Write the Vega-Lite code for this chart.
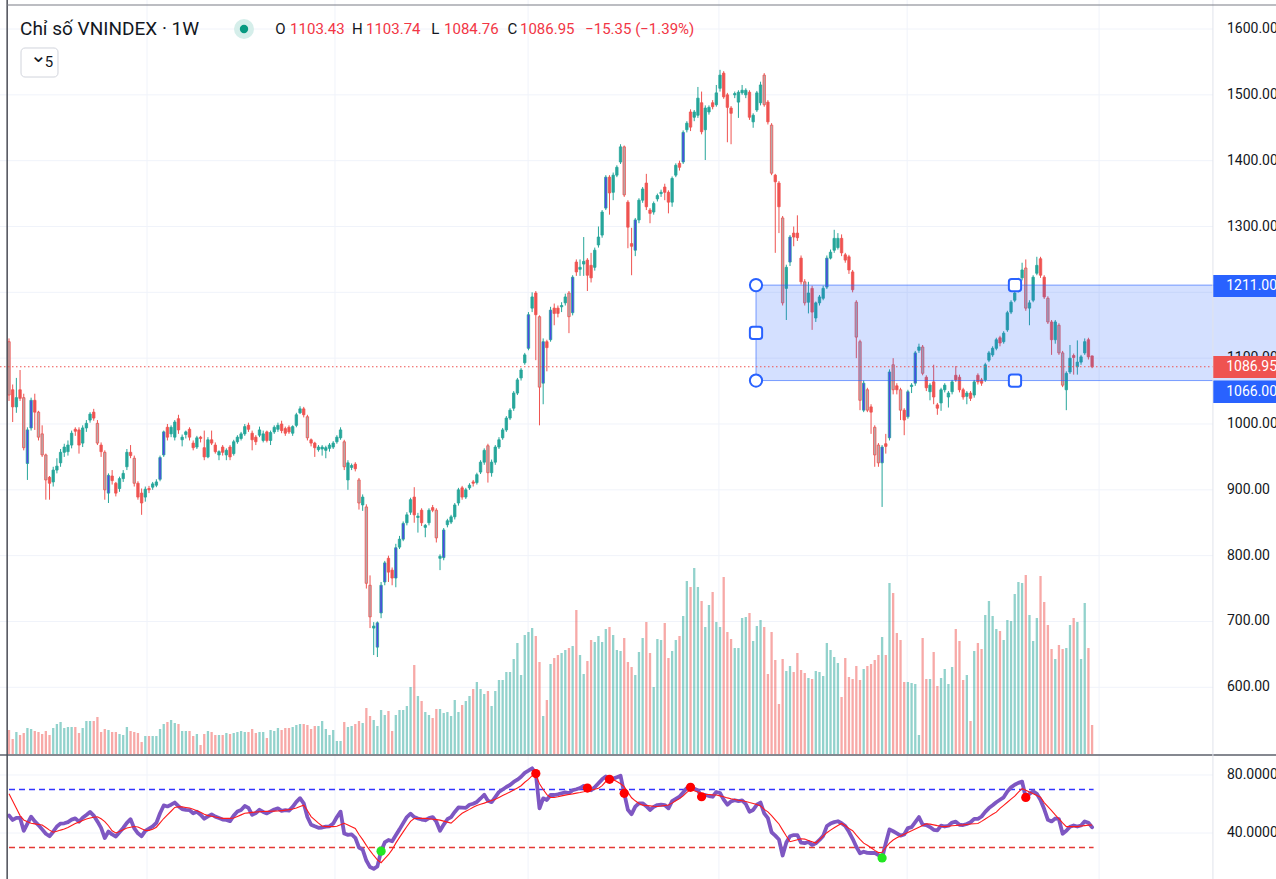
{
"$schema":"https://vega.github.io/schema/vega-lite/v6.json",
"width":1276,"height":879,"padding":0,
"autosize":{"type":"none"},
"background":"#ffffff",
"config":{"view":{"stroke":null},"font":"Roboto","scale":{"continuousPadding":0}},
"resolve":{"scale":{"y":"independent","color":"independent","fill":"independent","stroke":"independent"}},
"datasets":{
"pgrid":[{"p":600},{"p":700},{"p":800},{"p":900},{"p":1000},{"p":1100},{"p":1200},{"p":1300},{"p":1400},{"p":1500},{"p":1600}],
"rgrid":[{"r":80},{"r":40}],
"yrs":[{"year":2019,"i":37.46},{"year":2020,"i":88.49},{"year":2021,"i":140.9},{"year":2022,"i":192.7},{"year":2023,"i":243.8},{"year":2024,"i":295.9}],
"candles":[
{"i":0,"o":1125,"h":1130,"l":1035,"c":1044,"v":720,"r":52,"m":67,"k":1},
{"i":1,"o":1052,"h":1060,"l":1003,"c":1026,"v":450,"r":49,"m":62},
{"i":2,"o":1026,"h":1070,"l":1017,"c":1040,"v":660,"r":50.5,"m":57},
{"i":3,"o":1052,"h":1082,"l":1035,"c":1039,"v":570,"r":50.5,"m":52},
{"i":4,"o":1040,"h":1046,"l":960,"c":964,"v":630,"r":41.5,"m":49,"k":1},
{"i":5,"o":940,"h":995,"l":915,"c":991,"v":780,"r":46.5,"m":47.8,"k":1},
{"i":6,"o":994,"h":1040,"l":990,"c":1036,"v":750,"r":51.3,"m":46.7,"k":1},
{"i":7,"o":1036,"h":1046,"l":991,"c":1018,"v":690,"r":48,"m":46.3},
{"i":8,"o":1018,"h":1020,"l":975,"c":980,"v":660,"r":45.5,"m":45.9,"k":1},
{"i":9,"o":985,"h":998,"l":950,"c":953,"v":600,"r":42.5,"m":45.5,"k":1},
{"i":10,"o":953,"h":955,"l":885,"c":915,"v":690,"r":39.5,"m":43.8,"k":1},
{"i":11,"o":919,"h":921,"l":885,"c":910,"v":570,"r":37.8,"m":42},
{"i":12,"o":912,"h":935,"l":905,"c":930,"v":780,"r":40.9,"m":40.5},
{"i":13,"o":930,"h":948,"l":925,"c":936,"v":900,"r":44.5,"m":41.2},
{"i":14,"o":941,"h":962,"l":935,"c":957,"v":960,"r":46.5,"m":42},
{"i":15,"o":957,"h":970,"l":950,"c":965,"v":780,"r":46.7,"m":42.7},
{"i":16,"o":958,"h":975,"l":952,"c":968,"v":810,"r":47.5,"m":43.8},
{"i":17,"o":968,"h":990,"l":963,"c":986,"v":810,"r":49.2,"m":45.2},
{"i":18,"o":992,"h":995,"l":982,"c":989,"v":810,"r":50.1,"m":46.5},
{"i":19,"o":991,"h":995,"l":955,"c":968,"v":630,"r":47.8,"m":47.5},
{"i":20,"o":971,"h":998,"l":965,"c":994,"v":780,"r":50.5,"m":48.6},
{"i":21,"o":994,"h":1006,"l":988,"c":1001,"v":990,"r":52.4,"m":49.7},
{"i":22,"o":1006,"h":1018,"l":1002,"c":1015,"v":990,"r":54.5,"m":50.4},
{"i":23,"o":1018,"h":1023,"l":1005,"c":1009,"v":990,"r":52,"m":50.9},
{"i":24,"o":1001,"h":1006,"l":968,"c":971,"v":1110,"r":48,"m":51.2,"k":1},
{"i":25,"o":968,"h":972,"l":950,"c":958,"v":660,"r":43.5,"m":49.8},
{"i":26,"o":957,"h":960,"l":885,"c":900,"v":750,"r":36.5,"m":47.9,"k":1},
{"i":27,"o":895,"h":925,"l":880,"c":922,"v":720,"r":41,"m":45,"k":1},
{"i":28,"o":921,"h":930,"l":908,"c":914,"v":660,"r":39,"m":41.5},
{"i":29,"o":910,"h":912,"l":890,"c":895,"v":660,"r":37.6,"m":40},
{"i":30,"o":902,"h":920,"l":897,"c":917,"v":600,"r":40.5,"m":41.1},
{"i":31,"o":917,"h":930,"l":912,"c":925,"v":570,"r":43.5,"m":42.3},
{"i":32,"o":935,"h":962,"l":930,"c":957,"v":810,"r":47,"m":43.4},
{"i":33,"o":957,"h":968,"l":948,"c":952,"v":690,"r":49.5,"m":44},
{"i":34,"o":948,"h":952,"l":905,"c":910,"v":660,"r":43.2,"m":44.5,"k":1},
{"i":35,"o":910,"h":913,"l":885,"c":889,"v":630,"r":39.8,"m":44.1},
{"i":36,"o":895,"h":902,"l":862,"c":880,"v":360,"r":37.8,"m":43},
{"i":37,"o":889,"h":905,"l":882,"c":901,"v":540,"r":41.5,"m":41.8},
{"i":38,"o":902,"h":906,"l":895,"c":900,"v":540,"r":43,"m":41.8},
{"i":39,"o":904,"h":912,"l":900,"c":909,"v":540,"r":44.5,"m":42.6},
{"i":40,"o":907,"h":916,"l":904,"c":912,"v":540,"r":47,"m":44},
{"i":41,"o":916,"h":952,"l":913,"c":949,"v":750,"r":53.6,"m":47,"k":1},
{"i":42,"o":953,"h":990,"l":950,"c":988,"v":900,"r":59,"m":50,"k":1},
{"i":43,"o":995,"h":1000,"l":975,"c":980,"v":960,"r":58.3,"m":52.5},
{"i":44,"o":985,"h":998,"l":980,"c":995,"v":1020,"r":59.5,"m":55},
{"i":45,"o":980,"h":1006,"l":975,"c":1003,"v":930,"r":61,"m":57.6},
{"i":46,"o":1008,"h":1014,"l":985,"c":991,"v":900,"r":58.5,"m":58.1},
{"i":47,"o":976,"h":984,"l":966,"c":980,"v":690,"r":56.5,"m":58},
{"i":48,"o":984,"h":990,"l":978,"c":988,"v":690,"r":55.9,"m":57.6},
{"i":49,"o":992,"h":995,"l":975,"c":980,"v":690,"r":55.8,"m":57.2},
{"i":50,"o":971,"h":975,"l":960,"c":964,"v":540,"r":53.6,"m":56.4},
{"i":51,"o":965,"h":982,"l":962,"c":979,"v":600,"r":54.7,"m":55.4},
{"i":52,"o":980,"h":982,"l":972,"c":978,"v":270,"r":52.6,"m":54.3},
{"i":53,"o":964,"h":990,"l":945,"c":950,"v":600,"r":49.8,"m":53},
{"i":54,"o":950,"h":980,"l":948,"c":976,"v":690,"r":51.5,"m":52},
{"i":55,"o":976,"h":990,"l":968,"c":971,"v":660,"r":52.8,"m":51.6},
{"i":56,"o":968,"h":972,"l":955,"c":958,"v":570,"r":51.3,"m":51},
{"i":57,"o":953,"h":960,"l":945,"c":958,"v":570,"r":50.3,"m":50.5},
{"i":58,"o":965,"h":968,"l":952,"c":957,"v":570,"r":49.3,"m":50.1},
{"i":59,"o":953,"h":963,"l":945,"c":960,"v":630,"r":49,"m":50.1},
{"i":60,"o":965,"h":968,"l":945,"c":950,"v":600,"r":48.2,"m":50.1},
{"i":61,"o":955,"h":976,"l":952,"c":973,"v":630,"r":52,"m":50.3},
{"i":62,"o":973,"h":983,"l":970,"c":980,"v":660,"r":54.8,"m":51.4},
{"i":63,"o":978,"h":988,"l":975,"c":985,"v":690,"r":55.9,"m":52.5},
{"i":64,"o":985,"h":1000,"l":982,"c":996,"v":660,"r":58.6,"m":53.6},
{"i":65,"o":998,"h":1002,"l":988,"c":992,"v":660,"r":57.3,"m":53.9},
{"i":66,"o":986,"h":990,"l":960,"c":976,"v":750,"r":52.5,"m":54.2},
{"i":67,"o":980,"h":983,"l":968,"c":973,"v":630,"r":53.8,"m":54.5},
{"i":68,"o":983,"h":996,"l":980,"c":991,"v":660,"r":56,"m":54.7},
{"i":69,"o":975,"h":990,"l":972,"c":985,"v":660,"r":54.5,"m":54.8},
{"i":70,"o":988,"h":990,"l":972,"c":975,"v":480,"r":53.5,"m":54.9},
{"i":71,"o":975,"h":990,"l":968,"c":987,"v":720,"r":54.9,"m":55},
{"i":72,"o":988,"h":998,"l":985,"c":995,"v":690,"r":56.2,"m":55.1},
{"i":73,"o":992,"h":1002,"l":988,"c":998,"v":780,"r":57,"m":55.2},
{"i":74,"o":1000,"h":1005,"l":986,"c":990,"v":720,"r":55.3,"m":55.4},
{"i":75,"o":993,"h":996,"l":982,"c":986,"v":780,"r":55.7,"m":55.8},
{"i":76,"o":995,"h":998,"l":985,"c":988,"v":780,"r":55.4,"m":56.1},
{"i":77,"o":986,"h":998,"l":982,"c":996,"v":810,"r":58,"m":56.5},
{"i":78,"o":998,"h":1017,"l":995,"c":1014,"v":870,"r":61.5,"m":57.2},
{"i":79,"o":1017,"h":1027,"l":1015,"c":1023,"v":900,"r":64,"m":58.3},
{"i":80,"o":1023,"h":1026,"l":1010,"c":1014,"v":900,"r":60.5,"m":59.2},
{"i":81,"o":1011,"h":1014,"l":975,"c":979,"v":870,"r":51,"m":55.5,"k":1},
{"i":82,"o":976,"h":978,"l":966,"c":971,"v":750,"r":45.7,"m":51.3},
{"i":83,"o":971,"h":973,"l":950,"c":964,"v":840,"r":44.6,"m":49},
{"i":84,"o":961,"h":968,"l":958,"c":965,"v":840,"r":43.6,"m":46.8},
{"i":85,"o":962,"h":968,"l":952,"c":965,"v":990,"r":43.8,"m":44.8},
{"i":86,"o":960,"h":967,"l":948,"c":964,"v":750,"r":44.4,"m":44.4},
{"i":87,"o":963,"h":971,"l":958,"c":968,"v":570,"r":44.6,"m":44.4},
{"i":88,"o":965,"h":974,"l":962,"c":971,"v":720,"r":46.5,"m":44.4},
{"i":89,"o":973,"h":983,"l":970,"c":980,"v":390,"r":51,"m":44.6},
{"i":90,"o":979,"h":995,"l":976,"c":991,"v":390,"r":54.7,"m":45.7},
{"i":91,"o":973,"h":976,"l":930,"c":935,"v":960,"r":39.6,"m":46.7,"k":1},
{"i":92,"o":915,"h":945,"l":900,"c":941,"v":810,"r":38.7,"m":45.5},
{"i":93,"o":934,"h":940,"l":930,"c":937,"v":840,"r":39,"m":44.3},
{"i":94,"o":939,"h":942,"l":928,"c":932,"v":900,"r":36.7,"m":43.1},
{"i":95,"o":915,"h":918,"l":870,"c":880,"v":990,"r":30,"m":39,"k":1},
{"i":96,"o":877,"h":893,"l":868,"c":889,"v":930,"r":28.5,"m":35.4},
{"i":97,"o":874,"h":878,"l":750,"c":758,"v":1380,"r":21,"m":31.5,"k":1},
{"i":98,"o":755,"h":770,"l":690,"c":707,"v":1140,"r":16.5,"m":27.8,"k":1},
{"i":99,"o":690,"h":699,"l":649,"c":693,"v":1020,"r":15.3,"m":24.5},
{"i":100,"o":661,"h":700,"l":646,"c":698,"v":840,"r":17,"m":21.5,"k":1},
{"i":101,"o":713,"h":760,"l":705,"c":755,"v":1320,"r":27.5,"m":19.5,"k":1,"s":"buy"},
{"i":102,"o":760,"h":792,"l":755,"c":789,"v":1170,"r":33.5,"m":22.4,"k":1},
{"i":103,"o":796,"h":800,"l":760,"c":775,"v":1290,"r":35.2,"m":25},
{"i":104,"o":778,"h":782,"l":755,"c":766,"v":690,"r":34.3,"m":28.5},
{"i":105,"o":766,"h":818,"l":752,"c":812,"v":1170,"r":38.5,"m":33,"k":1},
{"i":106,"o":813,"h":830,"l":810,"c":825,"v":1320,"r":42.5,"m":37},
{"i":107,"o":825,"h":852,"l":822,"c":849,"v":1320,"r":46.8,"m":40.8,"k":1},
{"i":108,"o":850,"h":866,"l":846,"c":862,"v":1440,"r":51,"m":44.5},
{"i":109,"o":866,"h":888,"l":862,"c":885,"v":2010,"r":53.3,"m":48},
{"i":110,"o":889,"h":904,"l":850,"c":862,"v":2670,"r":51,"m":50},
{"i":111,"o":858,"h":865,"l":835,"c":860,"v":1740,"r":50,"m":50.1},
{"i":112,"o":869,"h":872,"l":845,"c":850,"v":1590,"r":49.3,"m":50.1},
{"i":113,"o":843,"h":848,"l":828,"c":846,"v":1260,"r":48.8,"m":50.1},
{"i":114,"o":850,"h":872,"l":846,"c":869,"v":1170,"r":50.3,"m":49.8},
{"i":115,"o":873,"h":877,"l":866,"c":869,"v":1080,"r":51,"m":49.5},
{"i":116,"o":869,"h":872,"l":820,"c":827,"v":1350,"r":47.8,"m":49.2,"k":1},
{"i":117,"o":796,"h":802,"l":778,"c":799,"v":1350,"r":41.5,"m":48.9},
{"i":118,"o":797,"h":842,"l":793,"c":839,"v":1230,"r":45.8,"m":48.2,"k":1},
{"i":119,"o":847,"h":856,"l":843,"c":853,"v":1260,"r":49.5,"m":47.5},
{"i":120,"o":851,"h":862,"l":848,"c":859,"v":1140,"r":51,"m":46.8},
{"i":121,"o":859,"h":880,"l":855,"c":877,"v":1620,"r":54.5,"m":49},
{"i":122,"o":880,"h":903,"l":876,"c":900,"v":1260,"r":57.6,"m":51.5},
{"i":123,"o":903,"h":906,"l":885,"c":889,"v":1470,"r":57.5,"m":53.6},
{"i":124,"o":889,"h":903,"l":886,"c":900,"v":1590,"r":57.3,"m":55},
{"i":125,"o":903,"h":910,"l":900,"c":907,"v":1740,"r":59.5,"m":56.3},
{"i":126,"o":912,"h":915,"l":905,"c":910,"v":1950,"r":60.2,"m":57.8},
{"i":127,"o":911,"h":926,"l":908,"c":923,"v":2160,"r":61.4,"m":59},
{"i":128,"o":927,"h":945,"l":924,"c":942,"v":1950,"r":63.8,"m":59.8},
{"i":129,"o":942,"h":963,"l":938,"c":960,"v":1800,"r":66.4,"m":60.6},
{"i":130,"o":967,"h":970,"l":911,"c":926,"v":1890,"r":62.3,"m":61.5,"k":1},
{"i":131,"o":926,"h":946,"l":920,"c":942,"v":1440,"r":61.3,"m":62.4},
{"i":132,"o":942,"h":968,"l":938,"c":965,"v":1890,"r":64.8,"m":63.2},
{"i":133,"o":965,"h":980,"l":962,"c":976,"v":2220,"r":68.3,"m":64.5},
{"i":134,"o":979,"h":994,"l":976,"c":991,"v":2220,"r":70,"m":65.8},
{"i":135,"o":991,"h":1012,"l":988,"c":1009,"v":2460,"r":71.7,"m":67},
{"i":136,"o":1009,"h":1024,"l":1006,"c":1021,"v":2460,"r":73.1,"m":68.3},
{"i":137,"o":1024,"h":1050,"l":1020,"c":1047,"v":2850,"r":75.2,"m":69.6},
{"i":138,"o":1047,"h":1070,"l":1044,"c":1067,"v":3330,"r":76.8,"m":71},
{"i":139,"o":1070,"h":1085,"l":1066,"c":1082,"v":2370,"r":78.8,"m":72.6},
{"i":140,"o":1093,"h":1108,"l":1090,"c":1105,"v":3570,"r":81.5,"m":75},
{"i":141,"o":1115,"h":1170,"l":1112,"c":1166,"v":3660,"r":83,"m":77,"k":1},
{"i":142,"o":1176,"h":1200,"l":1170,"c":1193,"v":3780,"r":84.6,"m":79.5},
{"i":143,"o":1199,"h":1202,"l":1097,"c":1166,"v":3540,"r":81,"m":80,"s":"sell"},
{"i":144,"o":1163,"h":1165,"l":998,"c":1056,"v":2760,"r":57,"m":74,"k":1},
{"i":145,"o":1062,"h":1130,"l":1030,"c":1125,"v":1140,"r":63.9,"m":70,"k":1},
{"i":146,"o":1125,"h":1128,"l":1080,"c":1116,"v":1620,"r":62.8,"m":66.5},
{"i":147,"o":1128,"h":1178,"l":1125,"c":1173,"v":2700,"r":66.2,"m":64.5,"k":1},
{"i":148,"o":1176,"h":1183,"l":1150,"c":1168,"v":2880,"r":66.2,"m":64.5},
{"i":149,"o":1176,"h":1180,"l":1162,"c":1168,"v":2970,"r":66.7,"m":65},
{"i":150,"o":1178,"h":1185,"l":1170,"c":1180,"v":3030,"r":67.4,"m":65.6},
{"i":151,"o":1184,"h":1198,"l":1180,"c":1193,"v":3120,"r":68,"m":66.1},
{"i":152,"o":1199,"h":1202,"l":1138,"c":1163,"v":3180,"r":67.5,"m":66.6,"k":1},
{"i":153,"o":1169,"h":1226,"l":1165,"c":1223,"v":3240,"r":69.5,"m":67,"k":1},
{"i":154,"o":1246,"h":1250,"l":1225,"c":1231,"v":4320,"r":70.2,"m":67.5},
{"i":155,"o":1235,"h":1250,"l":1225,"c":1238,"v":2970,"r":71,"m":67.9},
{"i":156,"o":1243,"h":1284,"l":1225,"c":1247,"v":2400,"r":72.5,"m":68.4},
{"i":157,"o":1249,"h":1252,"l":1202,"c":1226,"v":2790,"r":71,"m":69,"s":"sell"},
{"i":158,"o":1241,"h":1260,"l":1215,"c":1222,"v":3420,"r":69.5,"m":69.6},
{"i":159,"o":1238,"h":1268,"l":1233,"c":1264,"v":3360,"r":71.5,"m":70.2},
{"i":160,"o":1272,"h":1300,"l":1268,"c":1284,"v":3540,"r":74.3,"m":70.8},
{"i":161,"o":1287,"h":1325,"l":1283,"c":1322,"v":3360,"r":77,"m":72.7},
{"i":162,"o":1328,"h":1378,"l":1325,"c":1375,"v":3750,"r":79,"m":75.5,"k":1},
{"i":163,"o":1375,"h":1378,"l":1318,"c":1351,"v":3810,"r":77,"m":77.2,"s":"sell"},
{"i":164,"o":1352,"h":1382,"l":1340,"c":1378,"v":3570,"r":77.5,"m":76.8},
{"i":165,"o":1378,"h":1393,"l":1375,"c":1390,"v":3120,"r":78.5,"m":75.5},
{"i":166,"o":1398,"h":1425,"l":1395,"c":1421,"v":3090,"r":79.5,"m":74},
{"i":167,"o":1421,"h":1423,"l":1345,"c":1348,"v":3480,"r":67.4,"m":72,"k":1,"s":"sell"},
{"i":168,"o":1337,"h":1340,"l":1267,"c":1299,"v":2760,"r":56,"m":68},
{"i":169,"o":1274,"h":1298,"l":1226,"c":1270,"v":2610,"r":53,"m":64.3},
{"i":170,"o":1264,"h":1313,"l":1255,"c":1310,"v":2370,"r":58.2,"m":62.2,"k":1},
{"i":171,"o":1310,"h":1343,"l":1305,"c":1340,"v":3060,"r":60.5,"m":60.4},
{"i":172,"o":1340,"h":1360,"l":1336,"c":1357,"v":3480,"r":60.5,"m":59.2},
{"i":173,"o":1366,"h":1380,"l":1325,"c":1330,"v":3960,"r":58.5,"m":59},
{"i":174,"o":1325,"h":1328,"l":1305,"c":1320,"v":3030,"r":55.9,"m":58.7},
{"i":175,"o":1322,"h":1338,"l":1318,"c":1335,"v":2010,"r":58,"m":58.4},
{"i":176,"o":1342,"h":1350,"l":1338,"c":1347,"v":3450,"r":59.3,"m":58.3},
{"i":177,"o":1350,"h":1356,"l":1345,"c":1352,"v":3420,"r":59.6,"m":58.6},
{"i":178,"o":1360,"h":1365,"l":1340,"c":1352,"v":3930,"r":59.3,"m":59},
{"i":179,"o":1352,"h":1355,"l":1320,"c":1337,"v":2880,"r":57,"m":59.3},
{"i":180,"o":1337,"h":1376,"l":1330,"c":1373,"v":3090,"r":62,"m":60.6},
{"i":181,"o":1378,"h":1396,"l":1375,"c":1393,"v":3420,"r":63.5,"m":62.2},
{"i":182,"o":1396,"h":1400,"l":1385,"c":1390,"v":3540,"r":65,"m":63.7},
{"i":183,"o":1398,"h":1446,"l":1395,"c":1443,"v":4140,"r":68,"m":65.6,"k":1},
{"i":184,"o":1447,"h":1460,"l":1443,"c":1457,"v":5190,"r":71,"m":68},
{"i":185,"o":1474,"h":1478,"l":1445,"c":1451,"v":5010,"r":71.5,"m":70,"s":"sell"},
{"i":186,"o":1466,"h":1477,"l":1460,"c":1474,"v":5580,"r":70.5,"m":69.2},
{"i":187,"o":1469,"h":1512,"l":1465,"c":1495,"v":5010,"r":69.5,"m":68.2},
{"i":188,"o":1488,"h":1505,"l":1440,"c":1444,"v":4590,"r":65,"m":67.2,"s":"sell"},
{"i":189,"o":1447,"h":1484,"l":1401,"c":1480,"v":3810,"r":66.2,"m":66.6},
{"i":190,"o":1474,"h":1484,"l":1470,"c":1481,"v":4470,"r":65.5,"m":66.5},
{"i":191,"o":1488,"h":1492,"l":1478,"c":1482,"v":4860,"r":65,"m":66.3},
{"i":192,"o":1485,"h":1515,"l":1482,"c":1503,"v":3960,"r":68.3,"m":66.2},
{"i":193,"o":1510,"h":1538,"l":1505,"c":1530,"v":3810,"r":67.6,"m":65.6},
{"i":194,"o":1533,"h":1536,"l":1494,"c":1497,"v":5310,"r":63,"m":65},
{"i":195,"o":1500,"h":1503,"l":1428,"c":1481,"v":3660,"r":59.5,"m":64.2},
{"i":196,"o":1480,"h":1483,"l":1425,"c":1472,"v":3450,"r":61.8,"m":63.6},
{"i":197,"o":1500,"h":1505,"l":1495,"c":1502,"v":3180,"r":62.6,"m":63.1},
{"i":198,"o":1489,"h":1507,"l":1465,"c":1504,"v":3180,"r":62,"m":62.6},
{"i":199,"o":1503,"h":1515,"l":1500,"c":1507,"v":4080,"r":62.5,"m":62.2},
{"i":200,"o":1500,"h":1510,"l":1495,"c":1507,"v":4110,"r":60,"m":61.7},
{"i":201,"o":1504,"h":1507,"l":1462,"c":1466,"v":4230,"r":54.7,"m":61},
{"i":202,"o":1459,"h":1472,"l":1450,"c":1469,"v":3390,"r":55.9,"m":60.4},
{"i":203,"o":1477,"h":1506,"l":1474,"c":1503,"v":3840,"r":59.5,"m":59.7},
{"i":204,"o":1488,"h":1520,"l":1484,"c":1515,"v":4020,"r":61,"m":58.7},
{"i":205,"o":1530,"h":1533,"l":1482,"c":1485,"v":3810,"r":53.6,"m":56.3,"k":1},
{"i":206,"o":1489,"h":1492,"l":1455,"c":1459,"v":2400,"r":50.2,"m":54.6},
{"i":207,"o":1454,"h":1457,"l":1378,"c":1381,"v":3660,"r":40.5,"m":52,"k":1},
{"i":208,"o":1378,"h":1380,"l":1260,"c":1368,"v":2820,"r":38.2,"m":49.1},
{"i":209,"o":1366,"h":1369,"l":1290,"c":1330,"v":1500,"r":35.5,"m":46.2},
{"i":210,"o":1313,"h":1316,"l":1180,"c":1184,"v":2850,"r":24.5,"m":42,"k":1},
{"i":211,"o":1206,"h":1242,"l":1158,"c":1238,"v":2490,"r":33.5,"m":37.9},
{"i":212,"o":1246,"h":1287,"l":1240,"c":1284,"v":2640,"r":37.8,"m":34,"k":1},
{"i":213,"o":1290,"h":1300,"l":1270,"c":1284,"v":2460,"r":38.6,"m":34.7},
{"i":214,"o":1290,"h":1317,"l":1278,"c":1283,"v":3030,"r":38.6,"m":35.3},
{"i":215,"o":1252,"h":1256,"l":1212,"c":1216,"v":2520,"r":33.3,"m":36},
{"i":216,"o":1216,"h":1220,"l":1180,"c":1184,"v":2430,"r":33,"m":35.8,"k":1},
{"i":217,"o":1185,"h":1216,"l":1168,"c":1199,"v":2280,"r":33.8,"m":34.9},
{"i":218,"o":1206,"h":1210,"l":1143,"c":1170,"v":2250,"r":31.8,"m":34},
{"i":219,"o":1161,"h":1186,"l":1155,"c":1184,"v":2490,"r":32.9,"m":33.1},
{"i":220,"o":1184,"h":1196,"l":1180,"c":1193,"v":2460,"r":35.2,"m":35.5},
{"i":221,"o":1191,"h":1210,"l":1188,"c":1206,"v":2340,"r":38,"m":37.8},
{"i":222,"o":1208,"h":1256,"l":1205,"c":1252,"v":3330,"r":44.8,"m":40.2,"k":1},
{"i":223,"o":1252,"h":1265,"l":1250,"c":1261,"v":3120,"r":46.5,"m":42},
{"i":224,"o":1264,"h":1295,"l":1260,"c":1282,"v":2910,"r":47.5,"m":43.6},
{"i":225,"o":1268,"h":1290,"l":1265,"c":1282,"v":2730,"r":48.1,"m":45.2},
{"i":226,"o":1282,"h":1288,"l":1255,"c":1260,"v":1710,"r":46.7,"m":46.6},
{"i":227,"o":1257,"h":1260,"l":1245,"c":1249,"v":2880,"r":44.8,"m":45},
{"i":228,"o":1254,"h":1257,"l":1228,"c":1234,"v":2310,"r":40.8,"m":43.2},
{"i":229,"o":1231,"h":1234,"l":1200,"c":1204,"v":2250,"r":36,"m":41.6},
{"i":230,"o":1185,"h":1188,"l":1100,"c":1132,"v":2640,"r":30.5,"m":38.5,"k":1},
{"i":231,"o":1125,"h":1128,"l":1021,"c":1036,"v":2220,"r":26,"m":35.6,"k":1},
{"i":232,"o":1021,"h":1066,"l":1018,"c":1062,"v":2550,"r":27.1,"m":33,"k":1},
{"i":233,"o":1052,"h":1055,"l":1018,"c":1021,"v":2640,"r":26.3,"m":31.5,"k":1},
{"i":234,"o":1026,"h":1030,"l":985,"c":1018,"v":2700,"r":26.2,"m":29.8},
{"i":235,"o":995,"h":998,"l":935,"c":953,"v":2820,"r":26.3,"m":28,"k":1},
{"i":236,"o":968,"h":971,"l":935,"c":941,"v":2970,"r":24.8,"m":26.5,"k":1},
{"i":237,"o":941,"h":968,"l":874,"c":965,"v":3510,"r":22.8,"m":26.7,"k":1,"s":"buy"},
{"i":238,"o":970,"h":985,"l":955,"c":966,"v":2970,"r":33,"m":30},
{"i":239,"o":979,"h":1083,"l":975,"c":1079,"v":5130,"r":42.5,"m":33,"k":1},
{"i":240,"o":1090,"h":1100,"l":1045,"c":1052,"v":4830,"r":41.2,"m":35.2,"k":1},
{"i":241,"o":1058,"h":1062,"l":1045,"c":1052,"v":3630,"r":39.8,"m":36.7},
{"i":242,"o":1052,"h":1055,"l":1006,"c":1021,"v":3420,"r":38.2,"m":38,"k":1},
{"i":243,"o":1021,"h":1024,"l":983,"c":1006,"v":2160,"r":39,"m":39.2},
{"i":244,"o":1011,"h":1052,"l":1008,"c":1049,"v":2160,"r":43.4,"m":40.4,"k":1},
{"i":245,"o":1057,"h":1062,"l":1047,"c":1059,"v":2130,"r":44.1,"m":41.5},
{"i":246,"o":1062,"h":1111,"l":1058,"c":1108,"v":2100,"r":47.5,"m":42.8,"k":1},
{"i":247,"o":1112,"h":1122,"l":1108,"c":1117,"v":570,"r":51,"m":44},
{"i":248,"o":1117,"h":1120,"l":1074,"c":1077,"v":3480,"r":45.8,"m":45.2,"k":1},
{"i":249,"o":1071,"h":1074,"l":1050,"c":1055,"v":2250,"r":45.5,"m":46.3},
{"i":250,"o":1049,"h":1062,"l":1036,"c":1059,"v":2250,"r":44.1,"m":46.1},
{"i":251,"o":1064,"h":1090,"l":1030,"c":1041,"v":3060,"r":42.2,"m":45.6},
{"i":252,"o":1029,"h":1032,"l":1014,"c":1024,"v":2040,"r":41.8,"m":45.1},
{"i":253,"o":1032,"h":1055,"l":1020,"c":1052,"v":2280,"r":45.1,"m":44.7},
{"i":254,"o":1052,"h":1062,"l":1048,"c":1059,"v":2550,"r":44.5,"m":44.4},
{"i":255,"o":1041,"h":1050,"l":1025,"c":1047,"v":2100,"r":45,"m":44.7},
{"i":256,"o":1049,"h":1067,"l":1045,"c":1064,"v":2610,"r":47.2,"m":45},
{"i":257,"o":1074,"h":1088,"l":1064,"c":1067,"v":3750,"r":47.8,"m":45.2},
{"i":258,"o":1071,"h":1075,"l":1048,"c":1052,"v":3390,"r":45.7,"m":45.4},
{"i":259,"o":1052,"h":1055,"l":1037,"c":1041,"v":2220,"r":45.5,"m":45.6},
{"i":260,"o":1042,"h":1050,"l":1030,"c":1047,"v":2370,"r":46.2,"m":45.9},
{"i":261,"o":1047,"h":1050,"l":1035,"c":1039,"v":990,"r":47.4,"m":46.2},
{"i":262,"o":1044,"h":1067,"l":1040,"c":1064,"v":3090,"r":49.7,"m":46.4},
{"i":263,"o":1074,"h":1077,"l":1060,"c":1064,"v":3330,"r":49.7,"m":46.6},
{"i":264,"o":1067,"h":1070,"l":1058,"c":1062,"v":3150,"r":51.4,"m":48},
{"i":265,"o":1067,"h":1093,"l":1064,"c":1090,"v":4170,"r":54.6,"m":49.6},
{"i":266,"o":1097,"h":1111,"l":1094,"c":1108,"v":4590,"r":57.2,"m":51.3},
{"i":267,"o":1105,"h":1118,"l":1102,"c":1115,"v":4140,"r":59.1,"m":52.9},
{"i":268,"o":1115,"h":1131,"l":1112,"c":1128,"v":3750,"r":61.2,"m":54.4},
{"i":269,"o":1131,"h":1134,"l":1118,"c":1123,"v":3690,"r":62.9,"m":57},
{"i":270,"o":1125,"h":1141,"l":1122,"c":1138,"v":3420,"r":64.6,"m":59.1},
{"i":271,"o":1143,"h":1172,"l":1140,"c":1169,"v":4020,"r":68.6,"m":61.2},
{"i":272,"o":1170,"h":1188,"l":1167,"c":1185,"v":3990,"r":71.5,"m":63.4},
{"i":273,"o":1188,"h":1202,"l":1185,"c":1199,"v":4800,"r":73.3,"m":65.4},
{"i":274,"o":1204,"h":1222,"l":1200,"c":1219,"v":5160,"r":74.6,"m":68.2},
{"i":275,"o":1222,"h":1245,"l":1218,"c":1234,"v":5130,"r":75.4,"m":70.6},
{"i":276,"o":1237,"h":1250,"l":1172,"c":1176,"v":5370,"r":64.5,"m":69.5,"k":1,"s":"sell"},
{"i":277,"o":1176,"h":1188,"l":1150,"c":1184,"v":4170,"r":67,"m":68.2},
{"i":278,"o":1188,"h":1226,"l":1185,"c":1223,"v":3390,"r":68.8,"m":67},
{"i":279,"o":1229,"h":1254,"l":1226,"c":1241,"v":4080,"r":67,"m":65.8},
{"i":280,"o":1251,"h":1254,"l":1222,"c":1226,"v":5340,"r":62.8,"m":64.7},
{"i":281,"o":1223,"h":1226,"l":1190,"c":1193,"v":4560,"r":56.5,"m":61},
{"i":282,"o":1191,"h":1194,"l":1152,"c":1155,"v":3870,"r":49.1,"m":58.2,"k":1},
{"i":283,"o":1155,"h":1158,"l":1105,"c":1128,"v":3150,"r":48,"m":55.5},
{"i":284,"o":1128,"h":1158,"l":1122,"c":1155,"v":2850,"r":50,"m":52.5},
{"i":285,"o":1150,"h":1153,"l":1105,"c":1108,"v":3270,"r":49.5,"m":49.8,"k":1},
{"i":286,"o":1108,"h":1111,"l":1056,"c":1059,"v":3150,"r":39.5,"m":47,"k":1},
{"i":287,"o":1052,"h":1080,"l":1021,"c":1077,"v":3180,"r":41.5,"m":44.4},
{"i":288,"o":1079,"h":1120,"l":1076,"c":1100,"v":3870,"r":44.3,"m":44.4},
{"i":289,"o":1104,"h":1107,"l":1075,"c":1101,"v":4080,"r":45.2,"m":44.4},
{"i":290,"o":1087,"h":1127,"l":1075,"c":1094,"v":3960,"r":44.5,"m":44.4},
{"i":291,"o":1094,"h":1105,"l":1090,"c":1102,"v":2850,"r":45.2,"m":44.8},
{"i":292,"o":1108,"h":1130,"l":1105,"c":1125,"v":4530,"r":48,"m":45.1},
{"i":293,"o":1128,"h":1131,"l":1098,"c":1102,"v":3180,"r":47,"m":45.4},
{"i":294,"o":1103.43,"h":1103.74,"l":1084.76,"c":1086.95,"v":870,"r":44,"m":45.5}
]
},
"layer":[
{"data":{"name":"pgrid"},"mark":{"type":"rule","color":"#f0f3fa","strokeWidth":1},
 "encoding":{"y":{"field":"p","type":"quantitative","scale":{"domain":[308.8,1644.1],"nice":false,"zero":false,"padding":0},"axis":null},
 "x":{"datum":-2.443,"type":"quantitative","scale":{"domain":[-2.443,343.92],"nice":false,"zero":false,"padding":0},"axis":null},"x2":{"datum":326.8}}},
{"data":{"name":"rgrid"},"mark":{"type":"rule","color":"#f0f3fa","strokeWidth":1},
 "encoding":{"y":{"field":"r","type":"quantitative","scale":{"domain":[8.276,614.48],"nice":false,"zero":false,"padding":0},"axis":null},
 "x":{"datum":-2.443,"type":"quantitative","scale":{"domain":[-2.443,343.92],"nice":false,"zero":false,"padding":0},"axis":null},"x2":{"datum":326.8}}},
{"data":{"name":"yrs"},"mark":{"type":"rule","color":"#f0f3fa","strokeWidth":1},
 "encoding":{"x":{"field":"i","type":"quantitative","scale":{"domain":[-2.443,343.92],"nice":false,"zero":false,"padding":0},"axis":null}}},
{"data":{"name":"candles"},"transform":[{"calculate":"datum.c >= datum.o ? 'up' : 'down'","as":"dir"}],
 "mark":{"type":"bar","size":2.3,"opacity":0.5},
 "encoding":{"x":{"field":"i","type":"quantitative","scale":{"domain":[-2.443,343.92],"nice":false,"zero":false,"padding":0},"axis":null},
 "y":{"field":"v","type":"quantitative","scale":{"domain":[-3750,22620],"nice":false,"zero":false,"padding":0},"axis":null},"y2":{"datum":0},
 "color":{"field":"dir","type":"nominal","scale":{"domain":["up","down"],"range":["#26a69a","#ef5350"]},"legend":null}}},
{"data":{"name":"candles"},"transform":[{"calculate":"datum.c >= datum.o ? 'up' : 'down'","as":"dir"}],
 "mark":{"type":"rule","strokeWidth":1},
 "encoding":{"x":{"field":"i","type":"quantitative","scale":{"domain":[-2.443,343.92],"nice":false,"zero":false,"padding":0},"axis":null},
 "y":{"field":"l","type":"quantitative","scale":{"domain":[308.8,1644.1],"nice":false,"zero":false,"padding":0},"axis":null},"y2":{"field":"h"},
 "color":{"field":"dir","type":"nominal","scale":{"domain":["up","down"],"range":["#26a69a","#ef5350"]},"legend":null}}},
{"data":{"name":"candles"},"transform":[{"calculate":"datum.c >= datum.o ? 'up' : 'down'","as":"dir"},{"calculate":"(datum.k == 1 ? 'big' : '') + datum.dir","as":"cat"}],
 "mark":{"type":"bar","size":2.4,"strokeWidth":0.8},
 "encoding":{"x":{"field":"i","type":"quantitative","scale":{"domain":[-2.443,343.92],"nice":false,"zero":false,"padding":0},"axis":null},
 "y":{"field":"o","type":"quantitative","scale":{"domain":[308.8,1644.1],"nice":false,"zero":false,"padding":0},"axis":null},"y2":{"field":"c"},
 "fill":{"field":"cat","type":"nominal","scale":{"domain":["up","down","bigup","bigdown"],"range":["#26a69a","#ef5350","#4f46e5","#b8a9a9"]},"legend":null},
 "stroke":{"field":"dir","type":"nominal","scale":{"domain":["up","down"],"range":["#26a69a","#ef5350"]},"legend":null}}},
{"data":{"values":[{"lo":1066,"hi":1211,"i0":202.77,"i1":346}]},
 "mark":{"type":"rect","fill":"#2962ff","fillOpacity":0.2,"stroke":"#2962ff","strokeOpacity":0.6,"strokeWidth":1},
 "encoding":{"x":{"field":"i0","type":"quantitative","scale":{"domain":[-2.443,343.92],"nice":false,"zero":false,"padding":0},"axis":null},"x2":{"field":"i1"},
 "y":{"field":"lo","type":"quantitative","scale":{"domain":[308.8,1644.1],"nice":false,"zero":false,"padding":0},"axis":null},"y2":{"field":"hi"}}},
{"data":{"values":[{"p":1086.95}]},"mark":{"type":"rule","color":"#ef5350","strokeWidth":1,"strokeDash":[1.5,2.5]},
 "encoding":{"y":{"field":"p","type":"quantitative","scale":{"domain":[308.8,1644.1],"nice":false,"zero":false,"padding":0},"axis":null},
 "x":{"datum":-2.443,"type":"quantitative","scale":{"domain":[-2.443,343.92],"nice":false,"zero":false,"padding":0},"axis":null},"x2":{"datum":326.8}}},
{"data":{"values":[{"r":70,"b":"upper"},{"r":30,"b":"lower"}]},"mark":{"type":"rule","strokeWidth":1.5,"strokeDash":[6,4]},
 "encoding":{"y":{"field":"r","type":"quantitative","scale":{"domain":[8.276,614.48],"nice":false,"zero":false,"padding":0},"axis":null},
 "x":{"datum":0,"type":"quantitative","scale":{"domain":[-2.443,343.92],"nice":false,"zero":false,"padding":0},"axis":null},"x2":{"datum":294.4},
 "color":{"field":"b","type":"nominal","scale":{"domain":["upper","lower"],"range":["#3535ff","#e53935"]},"legend":null}}},
{"data":{"name":"candles"},"mark":{"type":"line","color":"#7e57c2","strokeWidth":3.8,"strokeJoin":"round","strokeCap":"round"},
 "encoding":{"x":{"field":"i","type":"quantitative","scale":{"domain":[-2.443,343.92],"nice":false,"zero":false,"padding":0},"axis":null},
 "y":{"field":"r","type":"quantitative","scale":{"domain":[8.276,614.48],"nice":false,"zero":false,"padding":0},"axis":null}}},
{"data":{"name":"candles"},"mark":{"type":"line","color":"#ff1a1a","strokeWidth":1.1},
 "encoding":{"x":{"field":"i","type":"quantitative","scale":{"domain":[-2.443,343.92],"nice":false,"zero":false,"padding":0},"axis":null},
 "y":{"field":"m","type":"quantitative","scale":{"domain":[8.276,614.48],"nice":false,"zero":false,"padding":0},"axis":null}}},
{"data":{"name":"candles"},"transform":[{"filter":"isValid(datum.s)"}],"mark":{"type":"point","filled":true,"opacity":1,"size":85},
 "encoding":{"x":{"field":"i","type":"quantitative","scale":{"domain":[-2.443,343.92],"nice":false,"zero":false,"padding":0},"axis":null},
 "y":{"field":"r","type":"quantitative","scale":{"domain":[8.276,614.48],"nice":false,"zero":false,"padding":0},"axis":null},
 "color":{"field":"s","type":"nominal","scale":{"domain":["sell","buy"],"range":["#ff0000","#22e622"]},"legend":null}}},
{"data":{"values":[{}]},"mark":{"type":"rule","color":"#5d606b","strokeWidth":1.6},
 "encoding":{"y":{"datum":497.2,"type":"quantitative","scale":{"domain":[308.8,1644.1],"nice":false,"zero":false,"padding":0},"axis":null},
 "x":{"datum":-2.443,"type":"quantitative","scale":{"domain":[-2.443,343.92],"nice":false,"zero":false,"padding":0},"axis":null},"x2":{"datum":343.92}}},
{"data":{"values":[{}]},"mark":{"type":"rule","color":"#e0e3eb","strokeWidth":1},
 "encoding":{"x":{"datum":326.8,"type":"quantitative","scale":{"domain":[-2.443,343.92],"nice":false,"zero":false,"padding":0},"axis":null}}},
{"data":{"values":[{}]},"mark":{"type":"rule","color":"#4a4d55","strokeWidth":1.5},
 "encoding":{"x":{"datum":-0.5,"type":"quantitative","scale":{"domain":[-2.443,343.92],"nice":false,"zero":false,"padding":0},"axis":null}}},
{"data":{"values":[{}]},"mark":{"type":"rule","color":"#7a7d86","strokeWidth":1.2},
 "encoding":{"y":{"datum":1636.5,"type":"quantitative","scale":{"domain":[308.8,1644.1],"nice":false,"zero":false,"padding":0},"axis":null},
 "x":{"datum":-0.5,"type":"quantitative","scale":{"domain":[-2.443,343.92],"nice":false,"zero":false,"padding":0},"axis":null},"x2":{"datum":343.92}}},
{"data":{"name":"pgrid"},"mark":{"type":"text","align":"left","baseline":"middle","font":"Roboto","fontSize":14,"color":"#131722"},
 "encoding":{"y":{"field":"p","type":"quantitative","scale":{"domain":[308.8,1644.1],"nice":false,"zero":false,"padding":0},"axis":null},
 "x":{"datum":330.6,"type":"quantitative","scale":{"domain":[-2.443,343.92],"nice":false,"zero":false,"padding":0},"axis":null},
 "text":{"field":"p","type":"quantitative","format":".2f"}}},
{"data":{"name":"rgrid"},"mark":{"type":"text","align":"left","baseline":"middle","font":"Roboto","fontSize":14,"color":"#131722"},
 "encoding":{"y":{"field":"r","type":"quantitative","scale":{"domain":[8.276,614.48],"nice":false,"zero":false,"padding":0},"axis":null},
 "x":{"datum":330.6,"type":"quantitative","scale":{"domain":[-2.443,343.92],"nice":false,"zero":false,"padding":0},"axis":null},
 "text":{"field":"r","type":"quantitative","format":".4f"}}},
{"data":{"values":[{"lo":1192.9,"hi":1226.3,"t":"1211.00","yc":1209.6,"tag":"zone"},{"lo":1069.9,"hi":1103.3,"t":"1086.95","yc":1086.6,"tag":"last"},{"lo":1031.9,"hi":1065.3,"t":"1066.00","yc":1048.6,"tag":"zone"}]},
 "layer":[
 {"mark":{"type":"rect"},
  "encoding":{"x":{"datum":326.9,"type":"quantitative","scale":{"domain":[-2.443,343.92],"nice":false,"zero":false,"padding":0},"axis":null},"x2":{"datum":346},
  "y":{"field":"lo","type":"quantitative","scale":{"domain":[308.8,1644.1],"nice":false,"zero":false,"padding":0},"axis":null},"y2":{"field":"hi"},
  "color":{"field":"tag","type":"nominal","scale":{"domain":["zone","last"],"range":["#2962ff","#ef5350"]},"legend":null}}},
 {"mark":{"type":"text","align":"left","baseline":"middle","font":"Roboto","fontSize":14,"color":"#ffffff"},
  "encoding":{"x":{"datum":330.4,"type":"quantitative","scale":{"domain":[-2.443,343.92],"nice":false,"zero":false,"padding":0},"axis":null},
  "y":{"field":"yc","type":"quantitative","scale":{"domain":[308.8,1644.1],"nice":false,"zero":false,"padding":0},"axis":null},
  "text":{"field":"t"}}}
 ],
 "resolve":{"scale":{"y":"shared"}}},
{"data":{"values":[{"i":202.77,"p":1211},{"i":202.77,"p":1066}]},
 "mark":{"type":"point","shape":"circle","filled":true,"fill":"#ffffff","stroke":"#2962ff","strokeWidth":2,"size":150,"opacity":1},
 "encoding":{"x":{"field":"i","type":"quantitative","scale":{"domain":[-2.443,343.92],"nice":false,"zero":false,"padding":0},"axis":null},
 "y":{"field":"p","type":"quantitative","scale":{"domain":[308.8,1644.1],"nice":false,"zero":false,"padding":0},"axis":null}}},
{"data":{"values":[{"i":202.77,"p":1138.5},{"i":273.07,"p":1211},{"i":273.07,"p":1066}]},
 "mark":{"type":"point","shape":"M -0.55,-1 L 0.55,-1 Q 1,-1 1,-0.55 L 1,0.55 Q 1,1 0.55,1 L -0.55,1 Q -1,1 -1,0.55 L -1,-0.55 Q -1,-1 -0.55,-1 Z","filled":true,"fill":"#ffffff","stroke":"#2962ff","strokeWidth":2,"size":150,"opacity":1},
 "encoding":{"x":{"field":"i","type":"quantitative","scale":{"domain":[-2.443,343.92],"nice":false,"zero":false,"padding":0},"axis":null},
 "y":{"field":"p","type":"quantitative","scale":{"domain":[308.8,1644.1],"nice":false,"zero":false,"padding":0},"axis":null}}},
{"data":{"values":[{"t":"Chỉ số VNINDEX · 1W"}]},"mark":{"type":"text","align":"left","baseline":"middle","font":"Roboto","fontSize":19,"color":"#131722"},
 "encoding":{"x":{"datum":2.99,"type":"quantitative","scale":{"domain":[-2.443,343.92],"nice":false,"zero":false,"padding":0},"axis":null},
 "y":{"datum":1600,"type":"quantitative","scale":{"domain":[308.8,1644.1],"nice":false,"zero":false,"padding":0},"axis":null},"text":{"field":"t"}}},
{"data":{"values":[{}]},"mark":{"type":"point","shape":"circle","filled":true,"color":"#d5eeea","size":400,"opacity":1},
 "encoding":{"x":{"datum":63.79,"type":"quantitative","scale":{"domain":[-2.443,343.92],"nice":false,"zero":false,"padding":0},"axis":null},
 "y":{"datum":1600,"type":"quantitative","scale":{"domain":[308.8,1644.1],"nice":false,"zero":false,"padding":0},"axis":null}}},
{"data":{"values":[{}]},"mark":{"type":"point","shape":"circle","filled":true,"color":"#089981","size":70,"opacity":1},
 "encoding":{"x":{"datum":63.79,"type":"quantitative","scale":{"domain":[-2.443,343.92],"nice":false,"zero":false,"padding":0},"axis":null},
 "y":{"datum":1600,"type":"quantitative","scale":{"domain":[308.8,1644.1],"nice":false,"zero":false,"padding":0},"axis":null}}},
{"data":{"values":[{"x":72.3,"t":"O","kind":"key"},{"x":76.3,"t":"1103.43","kind":"val"},{"x":93.1,"t":"H","kind":"key"},{"x":96.9,"t":"1103.74","kind":"val"},{"x":114.6,"t":"L","kind":"key"},{"x":118.1,"t":"1084.76","kind":"val"},{"x":135.3,"t":"C","kind":"key"},{"x":138.7,"t":"1086.95","kind":"val"},{"x":156.4,"t":"−15.35 (−1.39%)","kind":"val"}]},
 "mark":{"type":"text","align":"left","baseline":"middle","font":"Roboto","fontSize":15},
 "encoding":{"x":{"field":"x","type":"quantitative","scale":{"domain":[-2.443,343.92],"nice":false,"zero":false,"padding":0},"axis":null},
 "y":{"datum":1600,"type":"quantitative","scale":{"domain":[308.8,1644.1],"nice":false,"zero":false,"padding":0},"axis":null},
 "text":{"field":"t"},
 "color":{"field":"kind","type":"nominal","scale":{"domain":["key","val"],"range":["#131722","#f23645"]},"legend":null}}},
{"data":{"values":[{}]},"mark":{"type":"rect","fill":"#ffffff","stroke":"#d1d4dc","strokeWidth":1,"cornerRadius":4},
 "encoding":{"x":{"datum":3.26,"type":"quantitative","scale":{"domain":[-2.443,343.92],"nice":false,"zero":false,"padding":0},"axis":null},"x2":{"datum":13.3},
 "y":{"datum":1571.2,"type":"quantitative","scale":{"domain":[308.8,1644.1],"nice":false,"zero":false,"padding":0},"axis":null},"y2":{"datum":1527.1}}},
{"data":{"values":[{"x":5.7,"t":"⌄"}]},"mark":{"type":"text","align":"left","baseline":"middle","font":"DejaVu Sans","fontSize":20,"color":"#131722","dy":-6},
 "encoding":{"x":{"field":"x","type":"quantitative","scale":{"domain":[-2.443,343.92],"nice":false,"zero":false,"padding":0},"axis":null},
 "y":{"datum":1549.2,"type":"quantitative","scale":{"domain":[308.8,1644.1],"nice":false,"zero":false,"padding":0},"axis":null},"text":{"field":"t"}}},
{"data":{"values":[{"x":9.7,"t":"5"}]},"mark":{"type":"text","align":"left","baseline":"middle","font":"Roboto","fontSize":15,"color":"#131722"},
 "encoding":{"x":{"field":"x","type":"quantitative","scale":{"domain":[-2.443,343.92],"nice":false,"zero":false,"padding":0},"axis":null},
 "y":{"datum":1549.2,"type":"quantitative","scale":{"domain":[308.8,1644.1],"nice":false,"zero":false,"padding":0},"axis":null},"text":{"field":"t"}}}
]
}
